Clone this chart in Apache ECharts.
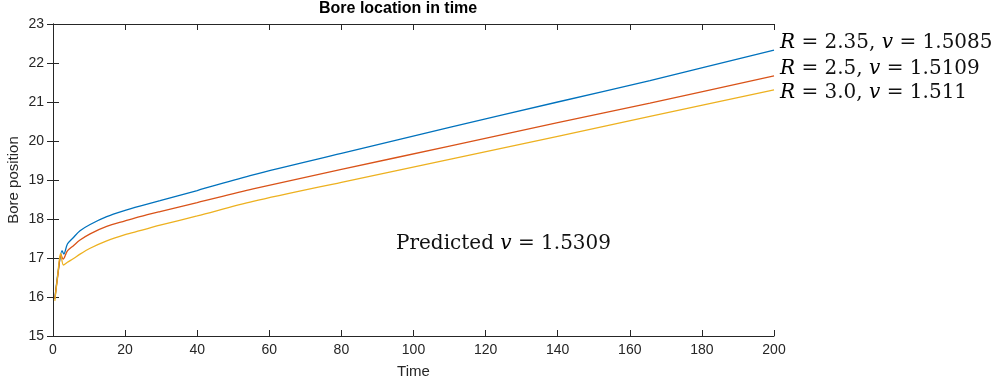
<!DOCTYPE html>
<html>
<head>
<meta charset="utf-8">
<script src="https://cdn.jsdelivr.net/npm/echarts@6/dist/echarts.min.js"></script>
<style>html,body{margin:0;padding:0;background:#fff;}#c{width:995px;height:382px;}</style>
</head>
<body>
<div id="c"></div>
<script>
// Data: [time, bore position]
var blueData = [[0.5,15.95],[1.5,16.7],[2.5,17.19],[3,17.1],[4,17.36],[5.6,17.52],[7.5,17.7],[10.3,17.86],[14.9,18.06],[20,18.22],[24.1,18.33],[29.7,18.47],[40,18.73],[55.5,19.13],[80,19.68],[110,20.35],[140,21.0],[165.6,21.55],[200,22.33]];
var redData = [[0.5,15.95],[1.4,16.6],[2.2,17.09],[2.8,16.97],[4,17.18],[5.6,17.31],[7.5,17.46],[10.3,17.62],[14.9,17.81],[20,17.95],[24.1,18.06],[29.7,18.19],[40,18.42],[55.5,18.77],[80,19.27],[110,19.87],[140,20.47],[165.6,20.97],[200,21.67]];
var yellowData = [[0.5,15.9],[1.3,16.55],[2.1,17.12],[2.9,16.82],[4,16.89],[5.6,16.98],[7.5,17.1],[10.3,17.25],[14.9,17.44],[20,17.6],[24.1,17.7],[29.7,17.84],[40,18.08],[55.5,18.45],[80,18.94],[110,19.53],[140,20.12],[165.6,20.63],[200,21.31]];
var seriesNames = ['R = 2.35, v = 1.5085', 'R = 2.5, v = 1.5109', 'R = 3.0, v = 1.511'];
var xTicks = {min: 0, max: 200, interval: 20};
var yTicks = {min: 15, max: 23, interval: 1};

var chart = echarts.init(document.getElementById('c'), null, {renderer: 'canvas'});
var axisColor = '#262626';
var font = 'Liberation Sans, Arial, Helvetica, sans-serif';
var serif = 'DejaVu Serif, Liberation Serif, serif';
function baseAxis(show) {
  return {
    axisLine: {show: true, lineStyle: {color: axisColor, width: 1}},
    axisTick: {show: true, inside: true, length: 6, lineStyle: {color: axisColor}},
    axisLabel: {show: show, color: axisColor, fontFamily: font, fontSize: 14},
    splitLine: {show: false}
  };
}
var xa = Object.assign(baseAxis(true), {type: 'value', position: 'bottom', min: xTicks.min, max: xTicks.max, interval: xTicks.interval,
  name: 'Time', nameLocation: 'middle', nameGap: 28, nameMoveOverlap: false, nameTextStyle: {color: axisColor, fontFamily: font, fontSize: 15}});
xa.axisLabel.margin = 7;
var xa2 = Object.assign(baseAxis(false), {type: 'value', position: 'top', min: xTicks.min, max: xTicks.max, interval: xTicks.interval});
var ya = Object.assign(baseAxis(true), {type: 'value', position: 'left', min: yTicks.min, max: yTicks.max, interval: yTicks.interval,
  name: 'Bore position', nameLocation: 'middle', nameGap: 32, nameMoveOverlap: false, nameTextStyle: {color: axisColor, fontFamily: font, fontSize: 15}});
ya.axisLabel.margin = 9;
var ya2 = Object.assign(baseAxis(false), {type: 'value', position: 'right', min: yTicks.min, max: yTicks.max, interval: yTicks.interval});

function rich(str) {
  return str.replace(/R/g, '{i|R}').replace(/v/g, '{i|v}');
}
var richStyle = {i: {fontFamily: serif, fontStyle: 'italic', fontSize: 20, fill: '#000'}};
function label(txt, x, y) {
  return {type: 'text', left: x, top: y, style: {text: rich(txt), fontFamily: serif, fontSize: 20, fill: '#111', rich: richStyle}};
}

chart.setOption({
  animation: false,
  backgroundColor: '#fff',
  grid: {left: 53, right: 221, top: 24, bottom: 46, containLabel: false, outerBoundsMode: 'none'},
  xAxis: [xa, xa2],
  yAxis: [ya, ya2],
  graphic: [
    {type: 'text', left: 319, top: 1, style: {text: 'Bore location in time', fontFamily: font, fontWeight: 'bold', fontSize: 16, fill: '#000'}},
    label(seriesNames[0], 780, 33),
    label(seriesNames[1], 780, 59),
    label(seriesNames[2], 780, 83),
    label('Predicted v = 1.5309', 396, 234)
  ],
  series: [
    {name: seriesNames[0], type: 'line', data: blueData, showSymbol: false, smooth: 0.3, lineStyle: {color: '#0072BD', width: 1.3}, itemStyle: {color: '#0072BD'}},
    {name: seriesNames[1], type: 'line', data: redData, showSymbol: false, smooth: 0.3, lineStyle: {color: '#D95319', width: 1.3}, itemStyle: {color: '#D95319'}},
    {name: seriesNames[2], type: 'line', data: yellowData, showSymbol: false, smooth: 0.3, lineStyle: {color: '#EDB120', width: 1.3}, itemStyle: {color: '#EDB120'}}
  ]
});
</script>
</body>
</html>
